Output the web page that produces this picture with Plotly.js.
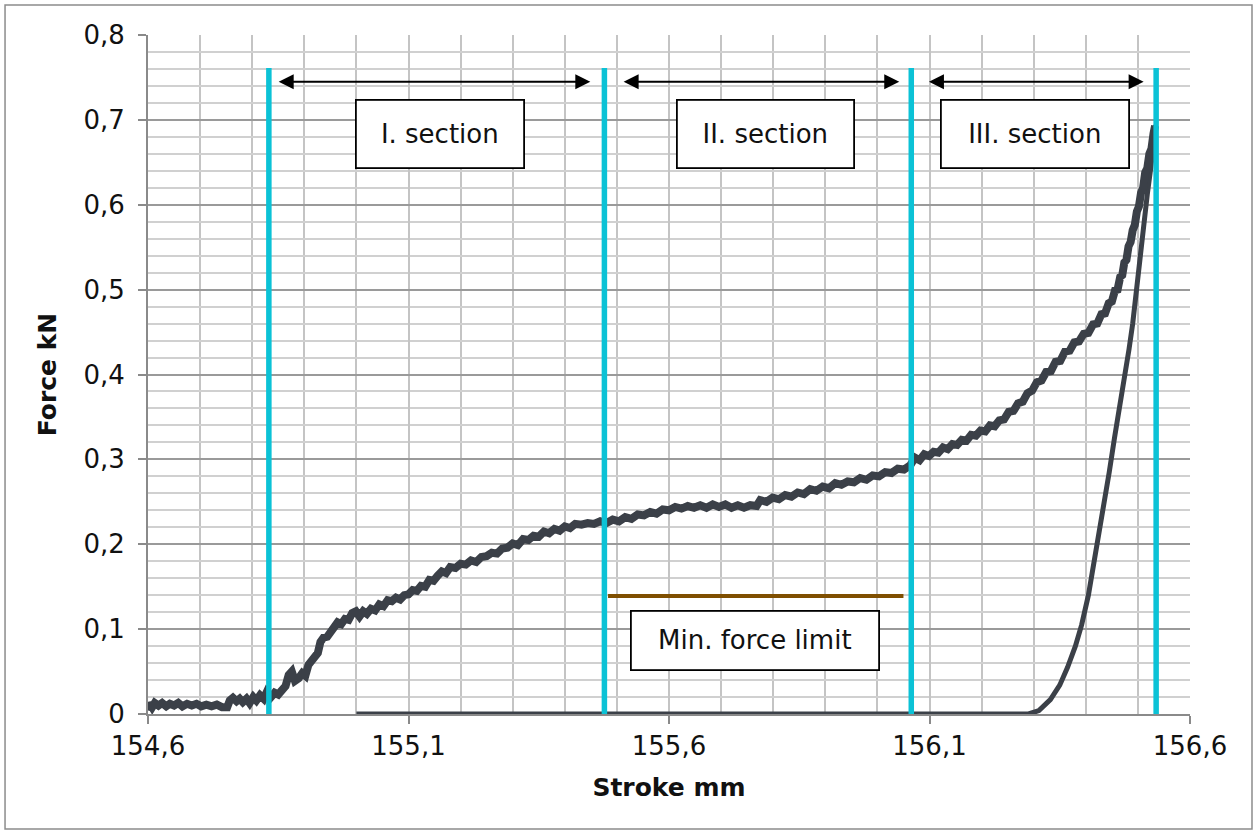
<!DOCTYPE html>
<html>
<head>
<meta charset="utf-8">
<script src="https://cdn.plot.ly/plotly-3.0.1.min.js"></script>
<style>html,body{margin:0;padding:0;background:#fff;}#chart{width:1258px;height:834px;}</style>
</head>
<body>
<div id="chart"></div>
<script>
// ---- data ----
const loadStroke = [
  154.600,154.603,154.608,154.613,154.620,154.627,154.635,154.642,154.650,154.658,
  154.666,154.675,154.684,154.693,154.702,154.712,154.722,154.732,154.742,154.752,
  154.757,154.763,154.770,154.776,154.782,154.789,154.795,154.802,154.808,154.815,
  154.822,154.828,154.836,154.843,154.850,154.857,154.864,154.870,154.876,154.882,
  154.889,154.896,154.902,154.908,154.914,154.920,154.926,154.931,154.937,154.944,
  154.951,154.958,154.964,154.971,154.978,154.985,154.992,154.999,155.006,155.013,
  155.020,155.028,155.036,155.044,155.052,155.060,155.068,155.076,155.084,155.092,
  155.100,155.108,155.116,155.124,155.132,155.140,155.148,155.156,155.164,155.172,
  155.180,155.190,155.200,155.210,155.220,155.230,155.240,155.250,155.260,155.270,
  155.280,155.290,155.300,155.310,155.320,155.330,155.340,155.350,155.360,155.370,
  155.380,155.390,155.400,155.410,155.420,155.432,155.444,155.456,155.468,155.480,
  155.492,155.504,155.516,155.528,155.540,155.552,155.564,155.576,155.588,155.600,
  155.612,155.624,155.636,155.648,155.660,155.672,155.684,155.696,155.708,155.720,
  155.732,155.744,155.756,155.768,155.775,155.787,155.799,155.811,155.823,155.835,
  155.847,155.859,155.871,155.883,155.895,155.907,155.919,155.931,155.943,155.955,
  155.967,155.979,155.991,156.003,156.015,156.027,156.039,156.051,156.063,156.072,
  156.081,156.090,156.099,156.108,156.117,156.126,156.135,156.144,156.153,156.162,
  156.171,156.180,156.189,156.198,156.207,156.216,156.225,156.234,156.243,156.252,
  156.261,156.270,156.279,156.288,156.297,156.306,156.315,156.324,156.333,156.342,
  156.351,156.360,156.369,156.378,156.387,156.396,156.405,156.414,156.422,156.430,
  156.437,156.444,156.450,156.456,156.461,156.466,156.470,156.474,156.478,156.482,
  156.486,156.490,156.494,156.498,156.502,156.506,156.510,156.514,156.518,156.522,
  156.526,156.530,156.533
];
const loadForce = [
  0.004,0.013,0.008,0.013,0.010,0.013,0.009,0.012,0.010,0.013,
  0.009,0.012,0.010,0.012,0.009,0.011,0.009,0.011,0.008,0.008,
  0.016,0.019,0.015,0.018,0.014,0.018,0.013,0.020,0.016,0.022,
  0.018,0.026,0.020,0.025,0.023,0.030,0.033,0.046,0.050,0.039,
  0.042,0.048,0.045,0.058,0.062,0.068,0.072,0.085,0.090,0.091,
  0.097,0.100,0.108,0.106,0.112,0.111,0.119,0.121,0.115,0.121,
  0.118,0.124,0.122,0.129,0.127,0.134,0.133,0.137,0.135,0.140,
  0.141,0.146,0.145,0.151,0.150,0.158,0.157,0.163,0.168,0.166,
  0.173,0.172,0.177,0.176,0.181,0.179,0.185,0.186,0.190,0.189,
  0.195,0.196,0.201,0.199,0.206,0.205,0.210,0.209,0.215,0.213,
  0.218,0.216,0.221,0.219,0.224,0.223,0.225,0.224,0.227,0.225,
  0.229,0.227,0.232,0.230,0.235,0.234,0.238,0.236,0.241,0.240,
  0.244,0.242,0.245,0.243,0.246,0.243,0.247,0.244,0.247,0.243,
  0.246,0.243,0.246,0.245,0.252,0.250,0.255,0.253,0.258,0.256,
  0.261,0.259,0.265,0.263,0.268,0.266,0.272,0.270,0.274,0.273,
  0.278,0.276,0.281,0.280,0.285,0.284,0.289,0.288,0.293,0.302,
  0.299,0.306,0.304,0.309,0.308,0.314,0.312,0.318,0.317,0.323,
  0.322,0.329,0.328,0.334,0.333,0.340,0.339,0.346,0.347,0.356,
  0.357,0.366,0.368,0.378,0.381,0.391,0.393,0.403,0.404,0.415,
  0.416,0.427,0.428,0.438,0.439,0.448,0.449,0.459,0.460,0.471,
  0.472,0.484,0.486,0.499,0.500,0.515,0.517,0.532,0.535,0.551,
  0.556,0.570,0.576,0.592,0.598,0.614,0.620,0.638,0.643,0.660,
  0.666,0.684,0.693
];

const unloadStroke = [155.000,156.290,156.310,156.332,156.350,156.365,156.380,156.392,156.405,156.415,156.424,156.434,156.445,156.455,156.465,156.475,156.483,156.490,156.497,156.503,156.510,156.518,156.525,156.530,156.534];
const unloadForce  = [0,0,0.004,0.017,0.034,0.055,0.080,0.105,0.140,0.175,0.205,0.245,0.285,0.325,0.360,0.395,0.430,0.460,0.500,0.540,0.575,0.612,0.645,0.675,0.694];

const sectionBounds = [154.832, 155.476, 156.065, 156.535];
const sectionTop = 0.761;
const sectionLabels = ['I. section', 'II. section', 'III. section'];
const sectionLabelX = [155.161, 155.785, 156.303];
const sectionLabelY = 0.683;
const arrowY = 0.745;
const arrowStart = [154.848, 155.510, 156.096];
const arrowEnd = [155.449, 156.042, 156.511];

const minForceStroke = [155.483, 156.050];
const minForceValue = 0.139;
const minForceLabel = 'Min. force limit';
const minForceLabelX = 155.766;
const minForceLabelY = 0.0866;

const xTickVals = [154.6, 155.1, 155.6, 156.1, 156.6];
const xTickText = ['154,6', '155,1', '155,6', '156,1', '156,6'];
const yTickVals = [0, 0.1, 0.2, 0.3, 0.4, 0.5, 0.6, 0.7, 0.8];
const yTickText = ['0', '0,1', '0,2', '0,3', '0,4', '0,5', '0,6', '0,7', '0,8'];

// ---- build ----
const FONT = 'DejaVu Sans, Verdana, sans-serif';
const DARK = '#3b4048';
const CYAN = '#0bc2d6';

const vx = [], vy = [];
sectionBounds.forEach(b => { vx.push(b, b, null); vy.push(0, sectionTop, null); });

const traces = [
  { x: unloadStroke, y: unloadForce, mode: 'lines', line: { color: DARK, width: 5 }, hoverinfo: 'skip', showlegend: false },
  { x: loadStroke, y: loadForce, mode: 'lines', line: { color: DARK, width: 8 }, hoverinfo: 'skip', showlegend: false },
  { x: minForceStroke, y: [minForceValue, minForceValue], mode: 'lines', line: { color: '#7f4f00', width: 4 }, hoverinfo: 'skip', showlegend: false },
  { x: vx, y: vy, mode: 'lines', line: { color: CYAN, width: 5.5 }, hoverinfo: 'skip', showlegend: false, connectgaps: false }
];

const annotations = [];
const boxW = [170, 179, 190];
sectionLabels.forEach((t, i) => {
  annotations.push({
    x: sectionLabelX[i], y: sectionLabelY, xref: 'x', yref: 'y', text: t, showarrow: false,
    font: { family: FONT, size: 26, color: '#111' }, bgcolor: '#fff', bordercolor: '#000',
    borderwidth: 1.8, borderpad: 0, width: boxW[i] - 4, height: 66
  });
  annotations.push({
    x: arrowEnd[i], y: arrowY, ax: arrowStart[i], ay: arrowY, xref: 'x', yref: 'y', axref: 'x', ayref: 'y',
    text: '', showarrow: true, arrowside: 'end+start', arrowhead: 2, startarrowhead: 2,
    arrowsize: 1.5, startarrowsize: 1.5, arrowwidth: 2, arrowcolor: '#000', standoff: 0, startstandoff: 0
  });
});
annotations.push({
  x: minForceLabelX, y: minForceLabelY, xref: 'x', yref: 'y', text: minForceLabel, showarrow: false,
  font: { family: FONT, size: 26, color: '#111' }, bgcolor: '#fff', bordercolor: '#000',
  borderwidth: 1.8, borderpad: 0, width: 246, height: 57
});

const layout = {
  width: 1258, height: 834,
  margin: { l: 148, r: 68, t: 35, b: 120 },
  paper_bgcolor: '#fff', plot_bgcolor: '#fff',
  font: { family: FONT, color: '#111' },
  showlegend: false,
  xaxis: {
    range: [154.6, 156.6], tickmode: 'array', tickvals: xTickVals, ticktext: xTickText,
    ticks: 'outside', ticklen: 8, tickwidth: 2, tickcolor: '#8a8a8a',
    tickfont: { family: FONT, size: 26, color: '#111' },
    showgrid: true, gridcolor: '#c4c4c4', gridwidth: 2,
    minor: { tick0: 154.6, dtick: 0.1, showgrid: true, gridcolor: '#c4c4c4', gridwidth: 2, ticks: '' },
    showline: true, linecolor: '#8a8a8a', linewidth: 2, zeroline: false,
    title: { text: '<b>Stroke mm</b>', font: { family: FONT, size: 25, color: '#111' }, standoff: 18 }
  },
  yaxis: {
    range: [0, 0.8], tickmode: 'array', tickvals: yTickVals, ticktext: yTickText,
    ticks: 'outside', ticklen: 8, tickwidth: 2, tickcolor: '#8a8a8a', ticklabelstandoff: 8,
    tickfont: { family: FONT, size: 26, color: '#111' },
    showgrid: true, gridcolor: '#9a9a9a', gridwidth: 2,
    minor: { tick0: 0, dtick: 0.02, showgrid: true, gridcolor: '#d0d0d0', gridwidth: 2, ticks: '' },
    showline: true, linecolor: '#8a8a8a', linewidth: 2, zeroline: false,
    title: { text: '<b>Force kN</b>', font: { family: FONT, size: 25, color: '#111' }, standoff: 20 }
  },
  annotations: annotations,
  shapes: [
    { type: 'rect', xref: 'paper', yref: 'paper', x0: -0.1372, x1: 1.0595, y0: -0.1694, y1: 1.0442,
      line: { color: '#8c8c8c', width: 1.5 }, fillcolor: 'rgba(0,0,0,0)', layer: 'below' }
  ]
};

Plotly.newPlot('chart', traces, layout, { displayModeBar: false, staticPlot: true });
</script>
</body>
</html>
